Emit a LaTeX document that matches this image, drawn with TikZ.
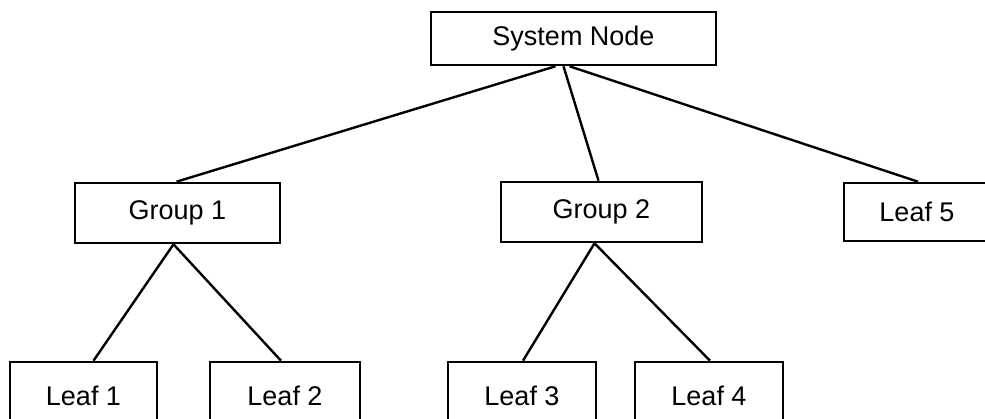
\documentclass[tikz,border=0pt]{standalone}
\usepackage{fontspec}
\setmainfont{Liberation Sans}
\begin{document}
\begin{tikzpicture}[x=1pt,y=-1pt,
  box/.style={draw, line width=2.6pt, rectangle, inner sep=0pt,
    font=\fontsize{27}{32}\selectfont},
  link/.style={line width=2.4pt}]
\clip (0,0) rectangle (985,419);
\fill[white] (0,0) rectangle (985,419);
\node[box, minimum width=285pt, minimum height=53pt] (sys) at (573.5,38.5) {System Node};
\node[box, minimum width=205pt, minimum height=60pt] (g1) at (177.5,213) {Group 1};
\node[box, minimum width=201pt, minimum height=60pt] (g2) at (601.5,212) {Group 2};
\node[box, minimum width=146pt, minimum height=58pt] (l5) at (917,212) {Leaf 5};
\node[box, minimum width=147pt, minimum height=68pt] (l1) at (83.5,396) {Leaf 1};
\node[box, minimum width=150pt, minimum height=68pt] (l2) at (285,396) {Leaf 2};
\node[box, minimum width=148pt, minimum height=68pt] (l3) at (522,396) {Leaf 3};
\node[box, minimum width=148pt, minimum height=68pt] (l4) at (709,396) {Leaf 4};
\draw[link] ([xshift=-18pt]sys.south) -- ([xshift=-1pt]g1.north);
\draw[link] ([xshift=-10pt]sys.south) -- ([xshift=-3pt]g2.north);
\draw[link] ([xshift=-4pt]sys.south) -- ([xshift=1pt]l5.north);
\draw[link] ([xshift=-4pt]g1.south) -- ([xshift=10pt]l1.north);
\draw[link] ([xshift=-4pt]g1.south) -- ([xshift=-4pt]l2.north);
\draw[link] ([xshift=-7pt]g2.south) -- ([xshift=1pt]l3.north);
\draw[link] ([xshift=-7pt]g2.south) -- ([xshift=1pt]l4.north);
\end{tikzpicture}
\end{document}
